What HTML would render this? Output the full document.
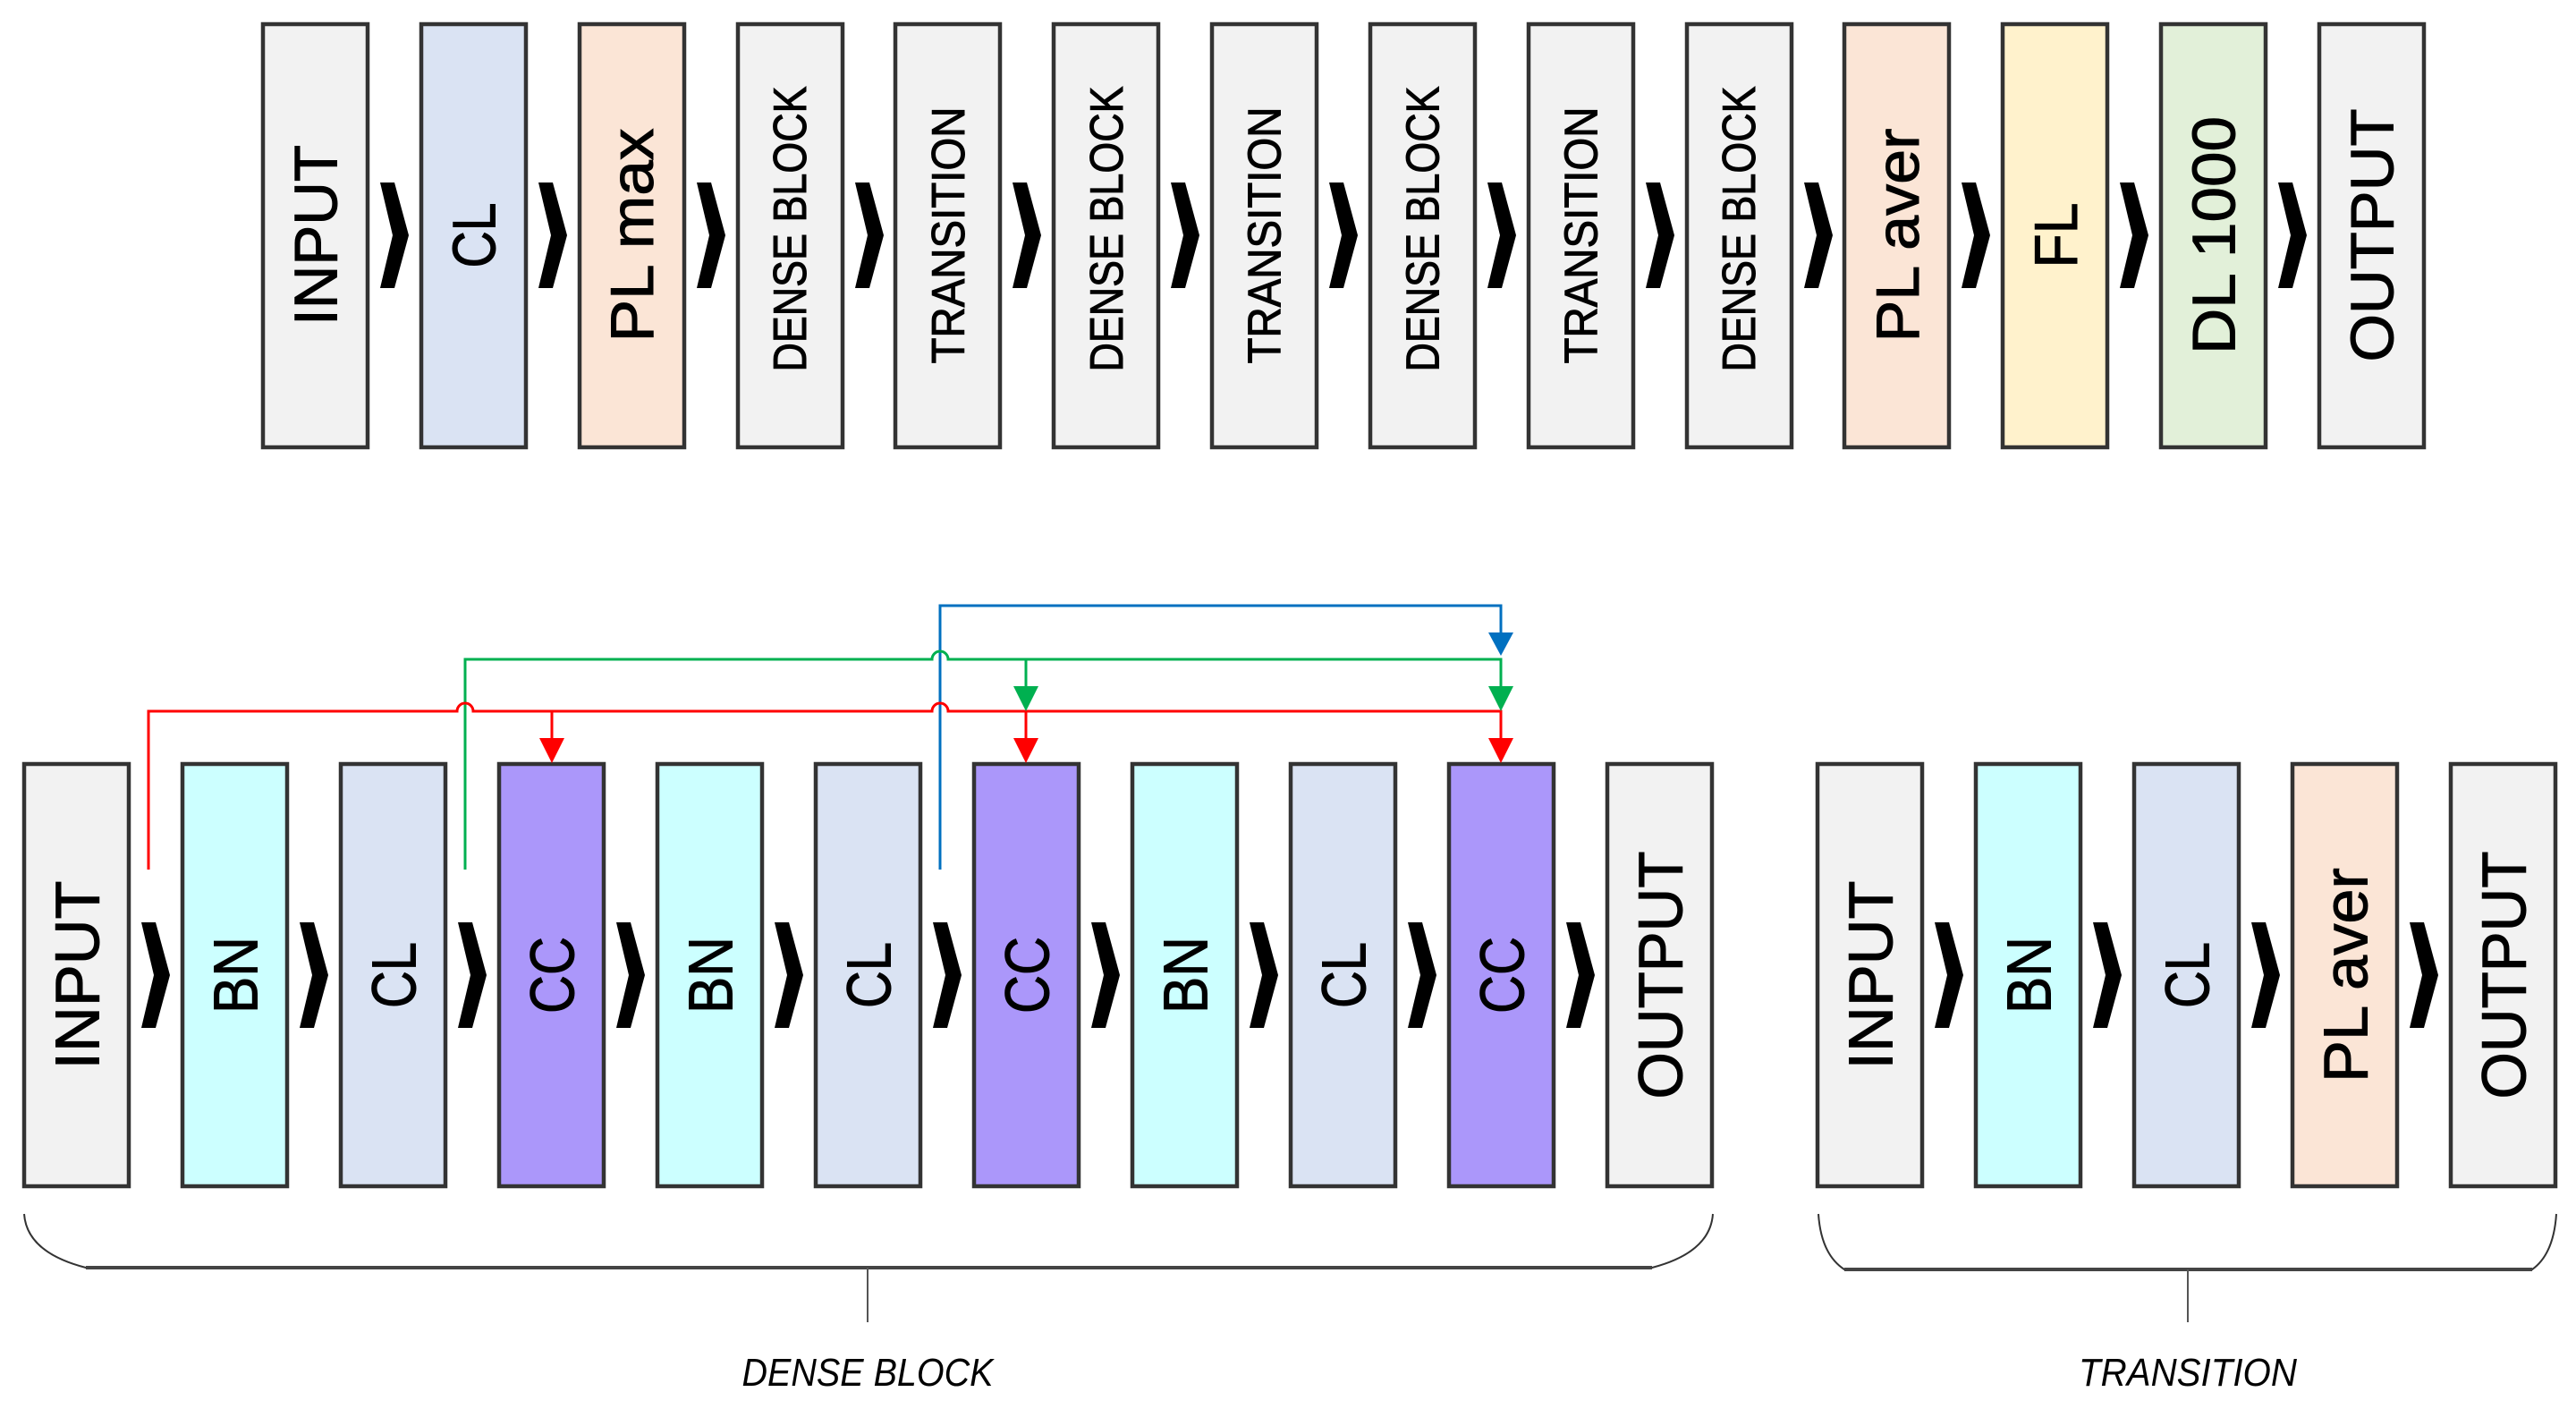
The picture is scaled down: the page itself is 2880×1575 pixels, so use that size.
<!DOCTYPE html>
<html><head><meta charset="utf-8"><style>
html,body{margin:0;padding:0;background:#fff;}
svg{display:block;}
text{font-family:"Liberation Sans",sans-serif;fill:#000;}
.lb text{stroke:#000;stroke-width:1;}
</style></head><body>
<svg width="2880" height="1575" viewBox="0 0 2880 1575" xmlns="http://www.w3.org/2000/svg">
<defs>
<polygon id="chev" points="-16,-59 0,-59 16,0 0,59 -16,59 -2,0" fill="#000"/>
</defs>
<g stroke="#333" stroke-width="4.5">
<rect x="294" y="27" width="117" height="473" fill="#f2f2f2"/>
<rect x="471" y="27" width="117" height="473" fill="#dae3f3"/>
<rect x="648" y="27" width="117" height="473" fill="#fbe5d6"/>
<rect x="825" y="27" width="117" height="473" fill="#f2f2f2"/>
<rect x="1001" y="27" width="117" height="473" fill="#f2f2f2"/>
<rect x="1178" y="27" width="117" height="473" fill="#f2f2f2"/>
<rect x="1355" y="27" width="117" height="473" fill="#f2f2f2"/>
<rect x="1532" y="27" width="117" height="473" fill="#f2f2f2"/>
<rect x="1709" y="27" width="117" height="473" fill="#f2f2f2"/>
<rect x="1886" y="27" width="117" height="473" fill="#f2f2f2"/>
<rect x="2062" y="27" width="117" height="473" fill="#fbe5d6"/>
<rect x="2239" y="27" width="117" height="473" fill="#fff2cc"/>
<rect x="2416" y="27" width="117" height="473" fill="#e2f0d9"/>
<rect x="2593" y="27" width="117" height="473" fill="#f2f2f2"/>
<rect x="27" y="854" width="117" height="472" fill="#f2f2f2"/>
<rect x="204" y="854" width="117" height="472" fill="#ccffff"/>
<rect x="381" y="854" width="117" height="472" fill="#dae3f3"/>
<rect x="558" y="854" width="117" height="472" fill="#ab97fa"/>
<rect x="735" y="854" width="117" height="472" fill="#ccffff"/>
<rect x="912" y="854" width="117" height="472" fill="#dae3f3"/>
<rect x="1089" y="854" width="117" height="472" fill="#ab97fa"/>
<rect x="1266" y="854" width="117" height="472" fill="#ccffff"/>
<rect x="1443" y="854" width="117" height="472" fill="#dae3f3"/>
<rect x="1620" y="854" width="117" height="472" fill="#ab97fa"/>
<rect x="1797" y="854" width="117" height="472" fill="#f2f2f2"/>
<rect x="2032" y="854" width="117" height="472" fill="#f2f2f2"/>
<rect x="2209" y="854" width="117" height="472" fill="#ccffff"/>
<rect x="2386" y="854" width="117" height="472" fill="#dae3f3"/>
<rect x="2563" y="854" width="117" height="472" fill="#fbe5d6"/>
<rect x="2740" y="854" width="117" height="472" fill="#f2f2f2"/>
</g>

<g>
<use href="#chev" x="441" y="263"/><use href="#chev" x="618" y="263"/><use href="#chev" x="795" y="263"/>
<use href="#chev" x="972" y="263"/><use href="#chev" x="1148" y="263"/><use href="#chev" x="1325" y="263"/>
<use href="#chev" x="1502" y="263"/><use href="#chev" x="1679" y="263"/><use href="#chev" x="1856" y="263"/>
<use href="#chev" x="2033" y="263"/><use href="#chev" x="2209" y="263"/><use href="#chev" x="2386" y="263"/>
<use href="#chev" x="2563" y="263"/>
</g>
<g>
<use href="#chev" x="174" y="1090"/><use href="#chev" x="351" y="1090"/><use href="#chev" x="528" y="1090"/>
<use href="#chev" x="705" y="1090"/><use href="#chev" x="882" y="1090"/><use href="#chev" x="1059" y="1090"/>
<use href="#chev" x="1236" y="1090"/><use href="#chev" x="1413" y="1090"/><use href="#chev" x="1590" y="1090"/>
<use href="#chev" x="1767" y="1090"/>
<use href="#chev" x="2179" y="1090"/><use href="#chev" x="2356" y="1090"/><use href="#chev" x="2533" y="1090"/>
<use href="#chev" x="2710" y="1090"/>
</g>

<g class="lb">
<text transform="translate(352.5,263) rotate(-90)" y="24" font-size="68" text-anchor="middle" textLength="202" lengthAdjust="spacingAndGlyphs">INPUT</text>
<text transform="translate(529.4,263) rotate(-90)" y="24" font-size="68" text-anchor="middle" textLength="73" lengthAdjust="spacingAndGlyphs">CL</text>
<text transform="translate(706.2,263) rotate(-90)" y="24" font-size="68" text-anchor="middle" textLength="239" lengthAdjust="spacingAndGlyphs">PL max</text>
<text transform="translate(883.1,256) rotate(-90)" y="18" font-size="52" text-anchor="middle" textLength="319" lengthAdjust="spacingAndGlyphs">DENSE BLOCK</text>
<text transform="translate(1059.9,263) rotate(-90)" y="18" font-size="52" text-anchor="middle" textLength="287" lengthAdjust="spacingAndGlyphs">TRANSITION</text>
<text transform="translate(1236.8,256) rotate(-90)" y="18" font-size="52" text-anchor="middle" textLength="319" lengthAdjust="spacingAndGlyphs">DENSE BLOCK</text>
<text transform="translate(1413.6,263) rotate(-90)" y="18" font-size="52" text-anchor="middle" textLength="287" lengthAdjust="spacingAndGlyphs">TRANSITION</text>
<text transform="translate(1590.5,256) rotate(-90)" y="18" font-size="52" text-anchor="middle" textLength="319" lengthAdjust="spacingAndGlyphs">DENSE BLOCK</text>
<text transform="translate(1767.3,263) rotate(-90)" y="18" font-size="52" text-anchor="middle" textLength="287" lengthAdjust="spacingAndGlyphs">TRANSITION</text>
<text transform="translate(1944.2,256) rotate(-90)" y="18" font-size="52" text-anchor="middle" textLength="319" lengthAdjust="spacingAndGlyphs">DENSE BLOCK</text>
<text transform="translate(2121,263) rotate(-90)" y="24" font-size="68" text-anchor="middle" textLength="239" lengthAdjust="spacingAndGlyphs">PL aver</text>
<text transform="translate(2297.9,263) rotate(-90)" y="24" font-size="68" text-anchor="middle" textLength="73" lengthAdjust="spacingAndGlyphs">FL</text>
<text transform="translate(2474.7,263) rotate(-90)" y="24" font-size="68" text-anchor="middle" textLength="266" lengthAdjust="spacingAndGlyphs">DL 1000</text>
<text transform="translate(2651.6,263) rotate(-90)" y="24" font-size="68" text-anchor="middle" textLength="283" lengthAdjust="spacingAndGlyphs">OUTPUT</text>
<text transform="translate(85.5,1090) rotate(-90)" y="25" font-size="70" text-anchor="middle" textLength="211" lengthAdjust="spacingAndGlyphs">INPUT</text>
<text transform="translate(262.5,1090) rotate(-90)" y="25" font-size="70" text-anchor="middle" textLength="86" lengthAdjust="spacingAndGlyphs">BN</text>
<text transform="translate(439.5,1090) rotate(-90)" y="25" font-size="70" text-anchor="middle" textLength="74" lengthAdjust="spacingAndGlyphs">CL</text>
<text transform="translate(616.5,1090) rotate(-90)" y="25" font-size="70" text-anchor="middle" textLength="86" lengthAdjust="spacingAndGlyphs">CC</text>
<text transform="translate(793.5,1090) rotate(-90)" y="25" font-size="70" text-anchor="middle" textLength="86" lengthAdjust="spacingAndGlyphs">BN</text>
<text transform="translate(970.5,1090) rotate(-90)" y="25" font-size="70" text-anchor="middle" textLength="74" lengthAdjust="spacingAndGlyphs">CL</text>
<text transform="translate(1147.5,1090) rotate(-90)" y="25" font-size="70" text-anchor="middle" textLength="86" lengthAdjust="spacingAndGlyphs">CC</text>
<text transform="translate(1324.5,1090) rotate(-90)" y="25" font-size="70" text-anchor="middle" textLength="86" lengthAdjust="spacingAndGlyphs">BN</text>
<text transform="translate(1501.5,1090) rotate(-90)" y="25" font-size="70" text-anchor="middle" textLength="74" lengthAdjust="spacingAndGlyphs">CL</text>
<text transform="translate(1678.5,1090) rotate(-90)" y="25" font-size="70" text-anchor="middle" textLength="86" lengthAdjust="spacingAndGlyphs">CC</text>
<text transform="translate(1855.5,1090) rotate(-90)" y="25" font-size="70" text-anchor="middle" textLength="277" lengthAdjust="spacingAndGlyphs">OUTPUT</text>
<text transform="translate(2090.5,1090) rotate(-90)" y="25" font-size="70" text-anchor="middle" textLength="211" lengthAdjust="spacingAndGlyphs">INPUT</text>
<text transform="translate(2267.5,1090) rotate(-90)" y="25" font-size="70" text-anchor="middle" textLength="86" lengthAdjust="spacingAndGlyphs">BN</text>
<text transform="translate(2444.5,1090) rotate(-90)" y="25" font-size="70" text-anchor="middle" textLength="74" lengthAdjust="spacingAndGlyphs">CL</text>
<text transform="translate(2621.5,1090) rotate(-90)" y="25" font-size="70" text-anchor="middle" textLength="240" lengthAdjust="spacingAndGlyphs">PL aver</text>
<text transform="translate(2798.5,1090) rotate(-90)" y="25" font-size="70" text-anchor="middle" textLength="277" lengthAdjust="spacingAndGlyphs">OUTPUT</text>
</g>

<g fill="none" stroke-width="3">
<path d="M1051 972 V677 H1678 V710" stroke="#0070c0"/>
<path d="M520 972 V737 H1042 a9 9 0 0 1 18 0 H1678 V770" stroke="#00b050"/>
<path d="M1147 737 V770" stroke="#00b050"/>
<path d="M166 972 V795 H511 a9 9 0 0 1 18 0 H1042 a9 9 0 0 1 18 0 H1678 V828" stroke="#ff0000"/>
<path d="M617 795 V828" stroke="#ff0000"/>
<path d="M1147 795 V828" stroke="#ff0000"/>
</g>
<g>
<polygon points="1664,707 1692,707 1678,733" fill="#0070c0"/>
<polygon points="1133,767 1161,767 1147,795" fill="#00b050"/>
<polygon points="1664,767 1692,767 1678,795" fill="#00b050"/>
<polygon points="603,825 631,825 617,853" fill="#ff0000"/>
<polygon points="1133,825 1161,825 1147,853" fill="#ff0000"/>
<polygon points="1664,825 1692,825 1678,853" fill="#ff0000"/>
</g>

<g fill="none" stroke="#333" stroke-width="2">
<path d="M27 1357 Q30 1400 96 1417 H1847 Q1912 1400 1915 1357"/>
<path d="M2033 1357 Q2036 1402 2062 1419 H2831 Q2855 1402 2858 1357"/>
</g>
<g stroke="#444" stroke-width="4">
<line x1="96" y1="1417" x2="1847" y2="1417"/>
<line x1="2062" y1="1419" x2="2831" y2="1419"/>
</g>
<g stroke="#555" stroke-width="2">
<line x1="970" y1="1417" x2="970" y2="1478"/>
<line x1="2446" y1="1419" x2="2446" y2="1478"/>
</g>
<text x="970" y="1549" font-size="44" font-style="italic" text-anchor="middle" textLength="281" lengthAdjust="spacingAndGlyphs">DENSE BLOCK</text>
<text x="2446" y="1549" font-size="44" font-style="italic" text-anchor="middle" textLength="244" lengthAdjust="spacingAndGlyphs">TRANSITION</text>
</svg>
</body></html>
